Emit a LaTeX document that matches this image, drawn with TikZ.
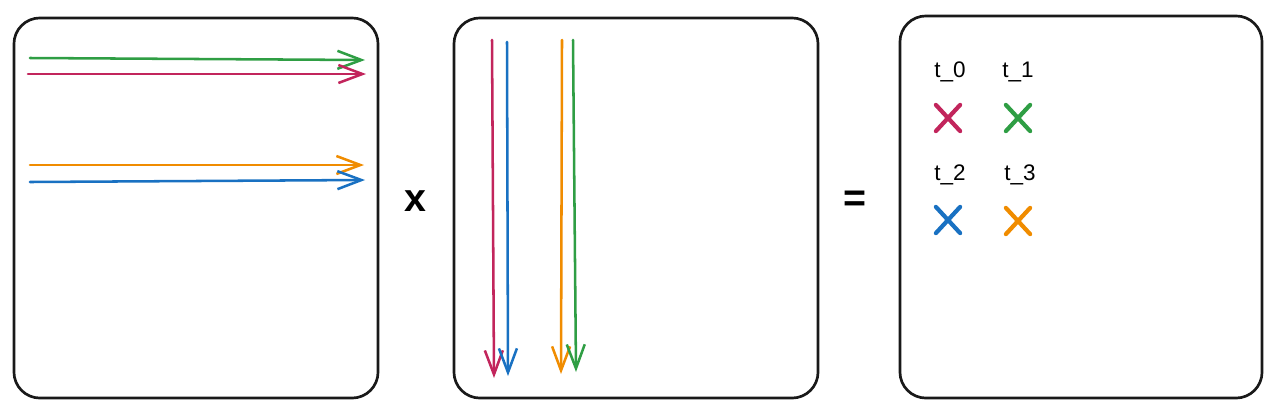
\documentclass[tikz,border=0pt]{standalone}
\usepackage{fontspec}
\setmainfont{Liberation Sans}
\usetikzlibrary{arrows.meta,shapes.misc}

\definecolor{rowred}{HTML}{C2255C}
\definecolor{rowgreen}{HTML}{2F9E44}
\definecolor{rowblue}{HTML}{1971C2}
\definecolor{roworange}{HTML}{F08C00}

\tikzset{
  matbox/.style={draw=black!90, line width=1.9pt, rounded corners=0.65cm,
    minimum width=9.1cm, minimum height=9.5cm, inner sep=0pt},
  vec/.style={line width=1.8pt, line cap=round,
    -{Straight Barb[length=0.6cm,width=0.45cm,line width=1.8pt]}},
  crossmark/.style={cross out, line width=3pt, line cap=round,
    minimum width=0.5cm, minimum height=0.55cm, inner sep=0pt},
  tlabel/.style={font=\fontsize{16}{16}\selectfont},
  opsign/.style={font=\bfseries\fontsize{28}{28}\selectfont}
}

\begin{document}
\begin{tikzpicture}[x=0.025cm, y=-0.025cm]
    \useasboundingbox (0, 0) rectangle (1280, 416);
    \begin{scope} % Left matrix, rows
      \node[matbox] (matA) at (196, 208) {};
      \coordinate (g0) at (30, 58);   \coordinate (g1) at (365, 60);
      \coordinate (r0) at (28, 74);   \coordinate (r1) at (366, 74);
      \coordinate (o0) at (30, 165);  \coordinate (o1) at (364, 165);
      \coordinate (b0) at (30, 182);  \coordinate (b1) at (365, 180);
      \draw[vec, rowgreen] (g0) -- (g1);
      \draw[vec, rowred] (r0) -- (r1);
      \draw[vec, roworange] (o0) -- (o1);
      \draw[vec, rowblue] (b0) -- (b1);
    \end{scope}
    \node[opsign] (times) at (415, 201) {x};
    \begin{scope} % Middle matrix, columns
      \node[matbox] (matB) at (636, 208) {};
      \coordinate (cr0) at (492, 40);  \coordinate (cr1) at (494, 378);
      \coordinate (cb0) at (507, 42);  \coordinate (cb1) at (508, 376);
      \coordinate (co0) at (562, 40);  \coordinate (co1) at (561, 374);
      \coordinate (cg0) at (573, 40);  \coordinate (cg1) at (576, 372);
      \draw[vec, rowred] (cr0) -- (cr1);
      \draw[vec, rowblue] (cb0) -- (cb1);
      \draw[vec, roworange] (co0) -- (co1);
      \draw[vec, rowgreen] (cg0) -- (cg1);
    \end{scope}
    \node[opsign] (equals) at (855, 201) {=};
    \begin{scope} % Result
      \node[matbox, minimum width=9.05cm, minimum height=9.55cm] (matC) at (1081, 207) {};
      \node[tlabel] (t0) at (950, 72) {t\_0};
      \node[tlabel] (t1) at (1018, 72) {t\_1};
      \node[tlabel] (t2) at (950, 175) {t\_2};
      \node[tlabel] (t3) at (1020, 175) {t\_3};
      \node[crossmark, draw=rowred] (x0) at (948, 118) {};
      \node[crossmark, draw=rowgreen] (x1) at (1018, 118) {};
      \node[crossmark, draw=rowblue] (x2) at (948, 220) {};
      \node[crossmark, draw=roworange] (x3) at (1018, 221) {};
    \end{scope}
\end{tikzpicture}
\end{document}
